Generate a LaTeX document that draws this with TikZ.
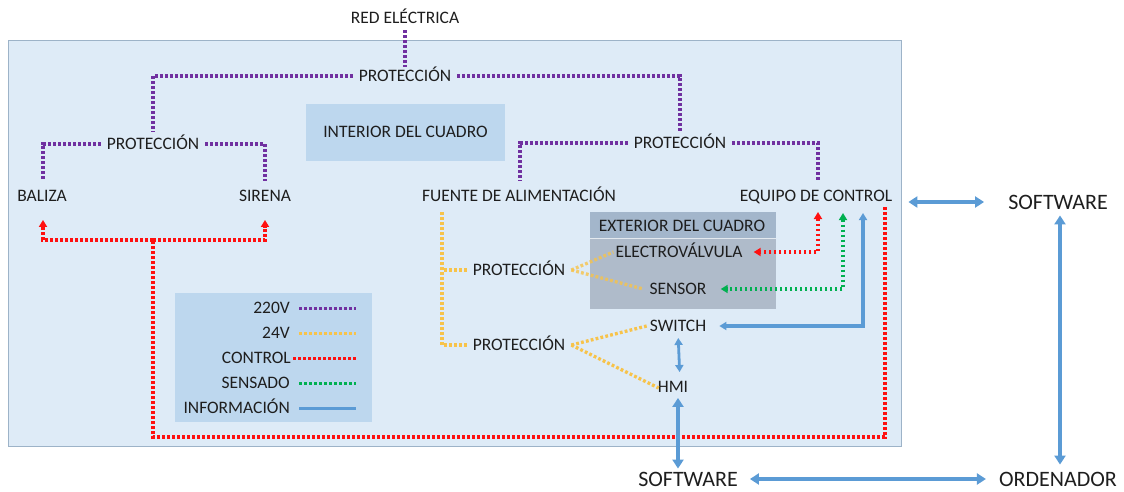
\documentclass[tikz,border=0pt]{standalone}
\usepackage{fontspec}
\setmainfont{Carlito}
\usetikzlibrary{arrows.meta}
\definecolor{boxfill}{HTML}{DEEBF7}
\definecolor{boxline}{HTML}{9DB3C8}
\definecolor{panel}{HTML}{BDD7EE}
\definecolor{extbody}{HTML}{AFBBCA}
\definecolor{exthead}{HTML}{A3B6CB}
\definecolor{txt}{HTML}{1E1E1E}
\definecolor{purp}{HTML}{7030A0}
\definecolor{ambar}{HTML}{F7C34A}
\definecolor{rojo}{HTML}{FF1010}
\definecolor{verde}{HTML}{00B050}
\definecolor{azul}{HTML}{5B9BD5}
\begin{document}
\begin{tikzpicture}[x=1pt,y=-1pt,
  lbl/.style={font=\fontsize{17.5}{20}\selectfont, text=txt, text height=11.5pt,
    text depth=0pt, inner ysep=0pt, inner xsep=6pt},
  biglbl/.style={lbl, font=\fontsize{22}{25}\selectfont, text height=14.5pt},
  dots/.style={line width=3.3pt, dash pattern=on 2.8pt off 2.2pt},
  v220/.style={dots, draw=purp},
  v24/.style={dots, draw=ambar},
  ctl/.style={dots, draw=rojo},
  sens/.style={dots, draw=verde},
  info/.style={draw=azul, line width=3.3pt},
  dtip/.style={-{Triangle[length=7pt,width=8pt]}},
  dtips/.style={{Triangle[length=7pt,width=8pt]}-{Triangle[length=7pt,width=8pt]}},
  btips/.style={{Triangle[length=9pt,width=11pt]}-{Triangle[length=9pt,width=11pt]}},
  stips/.style={{Triangle[length=7pt,width=8pt]}-{Triangle[length=7pt,width=8pt]}}
]
\useasboundingbox (0,0) rectangle (1124,491);

% panel boxes
\fill[boxfill, draw=boxline, line width=1pt] (8,40) rectangle (901,446);
\fill[panel] (306,104) rectangle (505,161);
\fill[panel] (175,293) rectangle (372,422);
\fill[extbody] (590,212) rectangle (776,309);
\fill[exthead] (590,212) rectangle (776,238);
\draw[white!70!exthead, line width=0.8pt] (590,238) -- (776,238);

% labels
\node[lbl] (red) at (405,18) {RED ELÉCTRICA};
\node[lbl] (p0) at (405,76) {PROTECCIÓN};
\node[lbl] (p1) at (153,144) {PROTECCIÓN};
\node[lbl] (p2) at (680,143) {PROTECCIÓN};
\node[lbl] (interior) at (405.5,132) {INTERIOR DEL CUADRO};
\node[lbl] (baliza) at (42,196) {BALIZA};
\node[lbl] (sirena) at (265,196) {SIRENA};
\node[lbl] (fuente) at (519,196) {FUENTE DE ALIMENTACIÓN};
\node[lbl] (equipo) at (816,196) {EQUIPO DE CONTROL};
\node[biglbl] (swR) at (1058,202) {SOFTWARE};
\node[lbl] (exterior) at (682,226) {EXTERIOR DEL CUADRO};
\node[lbl] (electro) at (679,252) {ELECTROVÁLVULA};
\node[lbl] (sensor) at (678,289) {SENSOR};
\node[lbl] (switch) at (678,326) {SWITCH};
\node[lbl] (hmi) at (673,387) {HMI};
\node[lbl] (pA) at (519,270) {PROTECCIÓN};
\node[lbl] (pB) at (519,345) {PROTECCIÓN};
\node[biglbl] (swB) at (688,479) {SOFTWARE};
\node[biglbl] (ord) at (1058,479) {ORDENADOR};

% 220 V distribution
\draw[v220] ([yshift=-6.5pt]red.south) -- ([yshift=3.5pt]p0.north);
\draw[v220] (p0.west) -| ([yshift=6pt]p1.north);
\draw[v220] (p0.east) -| ([yshift=6pt]p2.north);
\draw[v220] (p1.west) -| ([xshift=1pt,yshift=9pt]baliza.north);
\draw[v220] (p1.east) -| ([yshift=9pt]sirena.north);
\draw[v220] (p2.west) -| ([xshift=1pt,yshift=9pt]fuente.north);
\draw[v220] (p2.east) -| ([xshift=2pt,yshift=9pt]equipo.north);

% control loop from the controller to beacon and siren
\coordinate (ct) at (885,207);
\coordinate (cr) at (885,437);
\coordinate (cb) at (153,437);
\coordinate (cj) at (153,240);
\draw[ctl] (ct) -- (cr) -- (cb) -- (cj);
\draw[ctl,dtip] (cj) -| ([xshift=1pt,yshift=-18pt]baliza.south);
\draw[ctl,dtip] (cj) -| ([yshift=-18pt]sirena.south);

% controller to field devices
\coordinate (eR) at (818,212);
\coordinate (eG) at (843,213);
\coordinate (eB) at (863,213);
\draw[ctl,dtips] (eR) |- ([xshift=5pt]electro.east);
\draw[sens,dtips] (eG) |- ([xshift=8pt]sensor.east);
\draw[info,line width=3.2pt,stips] (eB) |- ([xshift=7pt]switch.east);

% 24 V distribution
\coordinate (f1) at (442,212);
\draw[v24] (f1) |- (pA.west);
\draw[v24] (f1) |- (pB.west);
\draw[v24,opacity=0.8] (pA.east) -- ([xshift=4pt]electro.west);
\draw[v24,opacity=0.8] (pA.east) -- (sensor.west);
\draw[v24] (pB.east) -- ([xshift=3pt]switch.west);
\draw[v24] (pB.east) -- ([xshift=7pt,yshift=-1pt]hmi.west);

% information links
\draw[info,line width=2.8pt,stips,shorten <=6pt,shorten >=9pt] (switch.south) -- ([xshift=2pt]hmi.north -| switch.south);
\draw[info,btips,shorten <=5pt,shorten >=3pt] ([xshift=5pt]hmi.south) -- ([xshift=-10pt]swB.north);
\draw[info,btips] ([xshift=10pt]equipo.east |- swR.west) -- ([xshift=-18pt]swR.west);
\draw[info,btips,shorten <=6pt,shorten >=7pt] ([xshift=2pt]swR.south) -- ([xshift=2pt]ord.north);
\draw[info,btips] ([xshift=6pt]swB.east) -- ([xshift=-7pt]ord.west);

% legend
\node[lbl,anchor=east] (l1) at (296,308) {220V};
\node[lbl,anchor=east] (l2) at (296,333) {24V};
\node[lbl,anchor=east] (l3) at (297,358) {CONTROL};
\node[lbl,anchor=east] (l4) at (296,383) {SENSADO};
\node[lbl,anchor=east] (l5) at (296,408) {INFORMACIÓN};
\coordinate (k1) at (356,308);
\coordinate (k2) at (356,333);
\coordinate (k3) at (356,358);
\coordinate (k4) at (356,383);
\coordinate (k5) at (356,408);
\draw[v220,line width=3pt] ([xshift=3pt]l1.east) -- (k1);
\draw[v24,line width=3pt] ([xshift=3pt]l2.east) -- (k2);
\draw[ctl,line width=3pt] ([xshift=-4pt]l3.east) -- (k3);
\draw[sens,line width=3pt] ([xshift=3pt]l4.east) -- (k4);
\draw[info,line width=3pt] ([xshift=3pt]l5.east) -- (k5);
\end{tikzpicture}
\end{document}
